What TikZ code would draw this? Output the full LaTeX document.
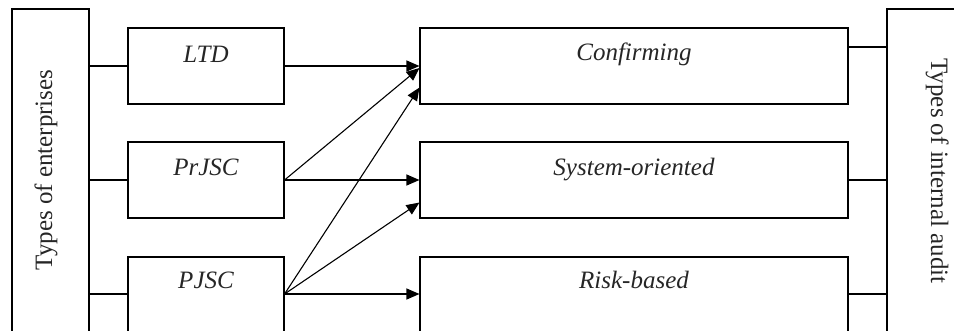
\documentclass[tikz,border=0pt]{standalone}
\usepackage{fontspec}
\setmainfont{Liberation Serif}
\usetikzlibrary{arrows.meta}
\tikzset{
  box/.style={draw=black, line width=1.1pt, inner sep=0pt, minimum width=156pt, minimum height=76pt},
  wbox/.style={draw=black, line width=1.1pt, inner sep=0pt, minimum width=428pt, minimum height=76pt},
  bigbox/.style={draw=black, line width=1.1pt, inner sep=0pt, minimum width=77pt, minimum height=331pt},
  lbl/.style={inner sep=0pt, anchor=base, text=black!85, font=\fontsize{25}{30}\selectfont\itshape},
  side/.style={inner sep=0pt, anchor=base, text=black!85, font=\fontsize{25}{30}\selectfont},
  conn/.style={line width=1.1pt},
  arr/.style={line width=1.1pt, -{Triangle[length=13pt,width=11pt]}}
}
\begin{document}
\begin{tikzpicture}[x=1pt,y=-1pt]
\useasboundingbox (0,0) rectangle (954,330);
% side boxes
\node[bigbox] (left) at (50.5,174.5) {};
\node[bigbox, minimum width=80pt] (right) at (927,174.5) {};
\node[side, rotate=90] (lefttxt) at (52,170) {Types of enterprises};
\node[side, rotate=-90] (righttxt) at (931,171) {Types of internal audit};
% enterprise boxes
\node[box] (ltd) at (206,66) {};
\node[box] (prjsc) at (206,180) {};
\node[box] (pjsc) at (206,295) {};
\node[lbl] (ltdt) at (206,62) {LTD};
\node[lbl] (prjsct) at (206,175) {PrJSC};
\node[lbl] (pjsct) at (206,288) {PJSC};
% audit boxes
\node[wbox] (conf) at (634,66) {};
\node[wbox] (sys) at (634,180) {};
\node[wbox] (risk) at (634,295) {};
\node[lbl] (conft) at (634,60) {Confirming};
\node[lbl] (syst) at (634,175) {System-oriented};
\node[lbl] (riskt) at (634,288) {Risk-based};
% left connectors
\draw[conn] (ltd.west -| left.east) -- (ltd.west);
\draw[conn] (prjsc.west -| left.east) -- (prjsc.west);
\draw[conn] ([yshift=1pt]pjsc.west -| left.east) -- ([yshift=1pt]pjsc.west);
% right connectors
\draw[conn] ([yshift=19pt]conf.east) -- ([yshift=19pt]conf.east -| right.west);
\draw[conn] (sys.east) -- (sys.east -| right.west);
\draw[conn] ([yshift=1pt]risk.east) -- ([yshift=1pt]risk.east -| right.west);
% arrows
\draw[arr] (ltd.east) -- (conf.west);
\draw[arr] (prjsc.east) -- ([yshift=-2pt]conf.west);
\draw[arr] ([yshift=1pt]pjsc.east) -- ([yshift=17pt]conf.south west);
\draw[arr] (prjsc.east) -- (sys.west);
\draw[arr] ([yshift=1pt]pjsc.east) -- ([yshift=16pt]sys.south west);
\draw[arr] ([yshift=1pt]pjsc.east) -- ([yshift=1pt]risk.west);
\end{tikzpicture}
\end{document}
